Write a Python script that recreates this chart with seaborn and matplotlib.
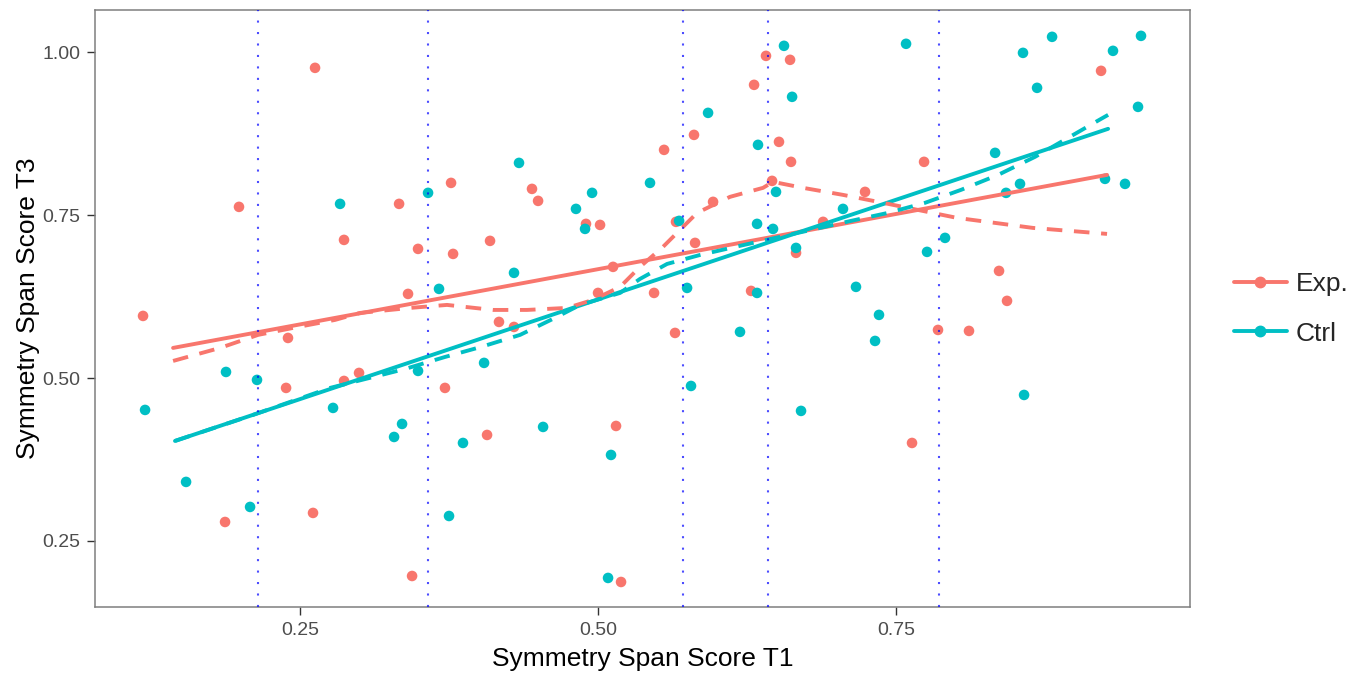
import numpy as np
import pandas as pd
import matplotlib
matplotlib.use("Agg")
import matplotlib.pyplot as plt
from matplotlib.lines import Line2D
import seaborn as sns

# ---- data -------------------------------------------------------------
groups = ["Exp.", "Ctrl"]
colors = ["#F8766D", "#00BFC4"]

exp_t1 = [0.1183, 0.1988, 0.2626, 0.2869, 0.3331, 0.3767, 0.3490, 0.3784, 0.4094, 0.3406,
          0.4446, 0.4497, 0.4899, 0.5017, 0.5126, 0.5000, 0.6409, 0.6611, 0.6309, 0.5805,
          0.5554, 0.6518, 0.6619, 0.6460, 0.5965, 0.5654, 0.7240, 0.6888, 0.5814, 0.6661,
          0.5470, 0.6284, 0.9220, 0.7735, 0.8364, 0.8431, 0.2399, 0.2383, 0.2869, 0.2995,
          0.1871, 0.2609, 0.4169, 0.4295, 0.3716, 0.4069, 0.5151, 0.3440, 0.5193, 0.5646,
          0.7634, 0.7852, 0.8112]
exp_t3 = [0.5954, 0.7628, 0.9762, 0.7121, 0.7674, 0.7996, 0.6983, 0.6906, 0.7106, 0.6292,
          0.7904, 0.7720, 0.7367, 0.7351, 0.6707, 0.6307, 0.9946, 0.9885, 0.9501, 0.8733,
          0.8503, 0.8626, 0.8319, 0.8027, 0.7705, 0.7398, 0.7858, 0.7398, 0.7075, 0.6922,
          0.6307, 0.6338, 0.9716, 0.8319, 0.6645, 0.6185, 0.5616, 0.4849, 0.4956, 0.5079,
          0.2791, 0.2930, 0.5862, 0.5785, 0.4849, 0.4127, 0.4265, 0.1962, 0.1870, 0.5693,
          0.4004, 0.5739, 0.5724]

ctrl_t1 = [0.2836, 0.4337, 0.3574, 0.3666, 0.4295, 0.4815, 0.4950, 0.4891, 0.6560, 0.6628,
           0.5923, 0.6342, 0.5436, 0.6493, 0.5680, 0.7055, 0.6334, 0.6468, 0.6661, 0.5747,
           0.6334, 0.7164, 0.7357, 0.7584, 0.8565, 0.8809, 0.9320, 0.9555, 0.8683, 0.9530,
           0.8331, 0.8540, 0.8423, 0.9253, 0.9421, 0.7911, 0.7760, 0.1879, 0.2139, 0.1200,
           0.2777, 0.1544, 0.2081, 0.3490, 0.4044, 0.3356, 0.3289, 0.3867, 0.4539, 0.5109,
           0.3750, 0.5084, 0.6191, 0.7324, 0.5780, 0.6703, 0.8574]
ctrl_t3 = [0.7674, 0.8303, 0.7843, 0.6369, 0.6615, 0.7597, 0.7843, 0.7290, 1.0100, 0.9317,
           0.9071, 0.8580, 0.7996, 0.7858, 0.7413, 0.7597, 0.7367, 0.7290, 0.6998, 0.6384,
           0.6307, 0.6400, 0.5970, 1.0131, 0.9992, 1.0238, 1.0023, 1.0253, 0.9455, 0.9163,
           0.8457, 0.7981, 0.7843, 0.8058, 0.7981, 0.7152, 0.6937, 0.5094, 0.4972, 0.4511,
           0.4542, 0.3406, 0.3022, 0.5110, 0.5233, 0.4296, 0.4096, 0.4004, 0.4250, 0.3820,
           0.2883, 0.1932, 0.5709, 0.5570, 0.4879, 0.4496, 0.4741]

# linear fits (end points)
exp_lm_t1 = [0.1435, 0.9270]
exp_lm_t3 = [0.5463, 0.8119]
ctrl_lm_t1 = [0.1451, 0.9279]
ctrl_lm_t3 = [0.4035, 0.8826]

# loess smooths
exp_lo_t1 = [0.1435, 0.1829, 0.2148, 0.2483, 0.2794, 0.3003, 0.3423, 0.3733, 0.4119, 0.4404,
             0.4740, 0.4958, 0.5185, 0.5352, 0.5545, 0.5831, 0.6107, 0.6384, 0.6468, 0.6720,
             0.7055, 0.7391, 0.8012, 0.8649, 0.9270]
exp_lo_t3 = [0.5263, 0.5463, 0.5663, 0.5785, 0.5893, 0.6000, 0.6077, 0.6123, 0.6046, 0.6046,
             0.6077, 0.6200, 0.6400, 0.6707, 0.7014, 0.7536, 0.7782, 0.7920, 0.8012, 0.7920,
             0.7812, 0.7690, 0.7459, 0.7305, 0.7213]
ctrl_lo_t1 = [0.1451, 0.2081, 0.2752, 0.3381, 0.3716, 0.4018, 0.4346, 0.4639, 0.4849, 0.5185,
              0.5352, 0.5579, 0.5856, 0.6149, 0.6485, 0.6787, 0.7122, 0.7433, 0.7743, 0.8045,
              0.8356, 0.8666, 0.8943, 0.9220, 0.9279]
ctrl_lo_t3 = [0.4035, 0.4419, 0.4849, 0.5140, 0.5324, 0.5478, 0.5663, 0.5924, 0.6123, 0.6307,
              0.6522, 0.6752, 0.6890, 0.7013, 0.7151, 0.7274, 0.7413, 0.7536, 0.7690, 0.7889,
              0.8119, 0.8396, 0.8687, 0.8979, 0.9040]

# reference cut points on T1
cut_points = [0.2148, 0.3574, 0.5713, 0.6422, 0.7861]

x_ticks = [0.25, 0.50, 0.75]
y_ticks = [0.25, 0.50, 0.75, 1.00]
x_label = "Symmetry Span Score T1"
y_label = "Symmetry Span Score T3"

# ---- tables -----------------------------------------------------------
def frame(t1_a, t3_a, t1_b, t3_b):
    return pd.DataFrame({
        "t1": list(t1_a) + list(t1_b),
        "t3": list(t3_a) + list(t3_b),
        "group": [groups[0]] * len(t1_a) + [groups[1]] * len(t1_b),
    })

points = frame(exp_t1, exp_t3, ctrl_t1, ctrl_t3)
lm_lines = frame(exp_lm_t1, exp_lm_t3, ctrl_lm_t1, ctrl_lm_t3)
lo_lines = frame(exp_lo_t1, exp_lo_t3, ctrl_lo_t1, ctrl_lo_t3)
palette = dict(zip(groups, colors))

# ---- figure -----------------------------------------------------------
sns.set_theme(style="ticks")
plt.rcParams["font.family"] = ["Liberation Sans", "DejaVu Sans"]

W, H = 1362, 675
fig = plt.figure(figsize=(W / 100, H / 100), dpi=100)
ax = fig.add_axes([95 / W, 1 - 607 / H, (1190 - 95) / W, (607 - 10) / H])

sns.scatterplot(data=points, x="t1", y="t3", hue="group", palette=palette,
                hue_order=groups, s=58, linewidth=0, legend=False, ax=ax, zorder=2)
sns.lineplot(data=lm_lines, x="t1", y="t3", hue="group", palette=palette,
             hue_order=groups, estimator=None, lw=2.8, legend=False, ax=ax, zorder=3)
sns.lineplot(data=lo_lines, x="t1", y="t3", hue="group", palette=palette,
             hue_order=groups, estimator=None, lw=2.8, linestyle=(0, (4, 3)),
             legend=False, ax=ax, zorder=3)

for c in cut_points:
    ax.axvline(c, color="blue", alpha=0.7, lw=1.5, linestyle=(0, (1, 4.5)), zorder=4)

ax.set_xlim(0.078, 0.9966)
ax.set_ylim(0.1486, 1.065)
ax.set_xticks(x_ticks)
ax.set_xticklabels([f"{v:.2f}" for v in x_ticks])
ax.set_yticks(y_ticks)
ax.set_yticklabels([f"{v:.2f}" for v in y_ticks])

for sp in ax.spines.values():
    sp.set_visible(True)
    sp.set_color("#7f7f7f")
    sp.set_linewidth(1.1)
ax.tick_params(axis="both", length=5.5, width=1, color="#333333",
               labelcolor="#4d4d4d", labelsize=14, pad=5)

ax.set_xlabel(x_label, fontsize=19, color="black", labelpad=6)
ax.set_ylabel(y_label, fontsize=19, color="black", labelpad=2)

handles = [Line2D([0], [0], color=c, lw=2.8, marker="o", markersize=7.5) for c in colors]
fig.legend(handles, groups, loc="center left", bbox_to_anchor=(1234 / W, 1 - 309 / H),
           frameon=False, fontsize=19, handlelength=2.0, handletextpad=0.35,
           labelspacing=0.95, borderaxespad=0, borderpad=0)

fig.savefig("out.png", dpi=100)
